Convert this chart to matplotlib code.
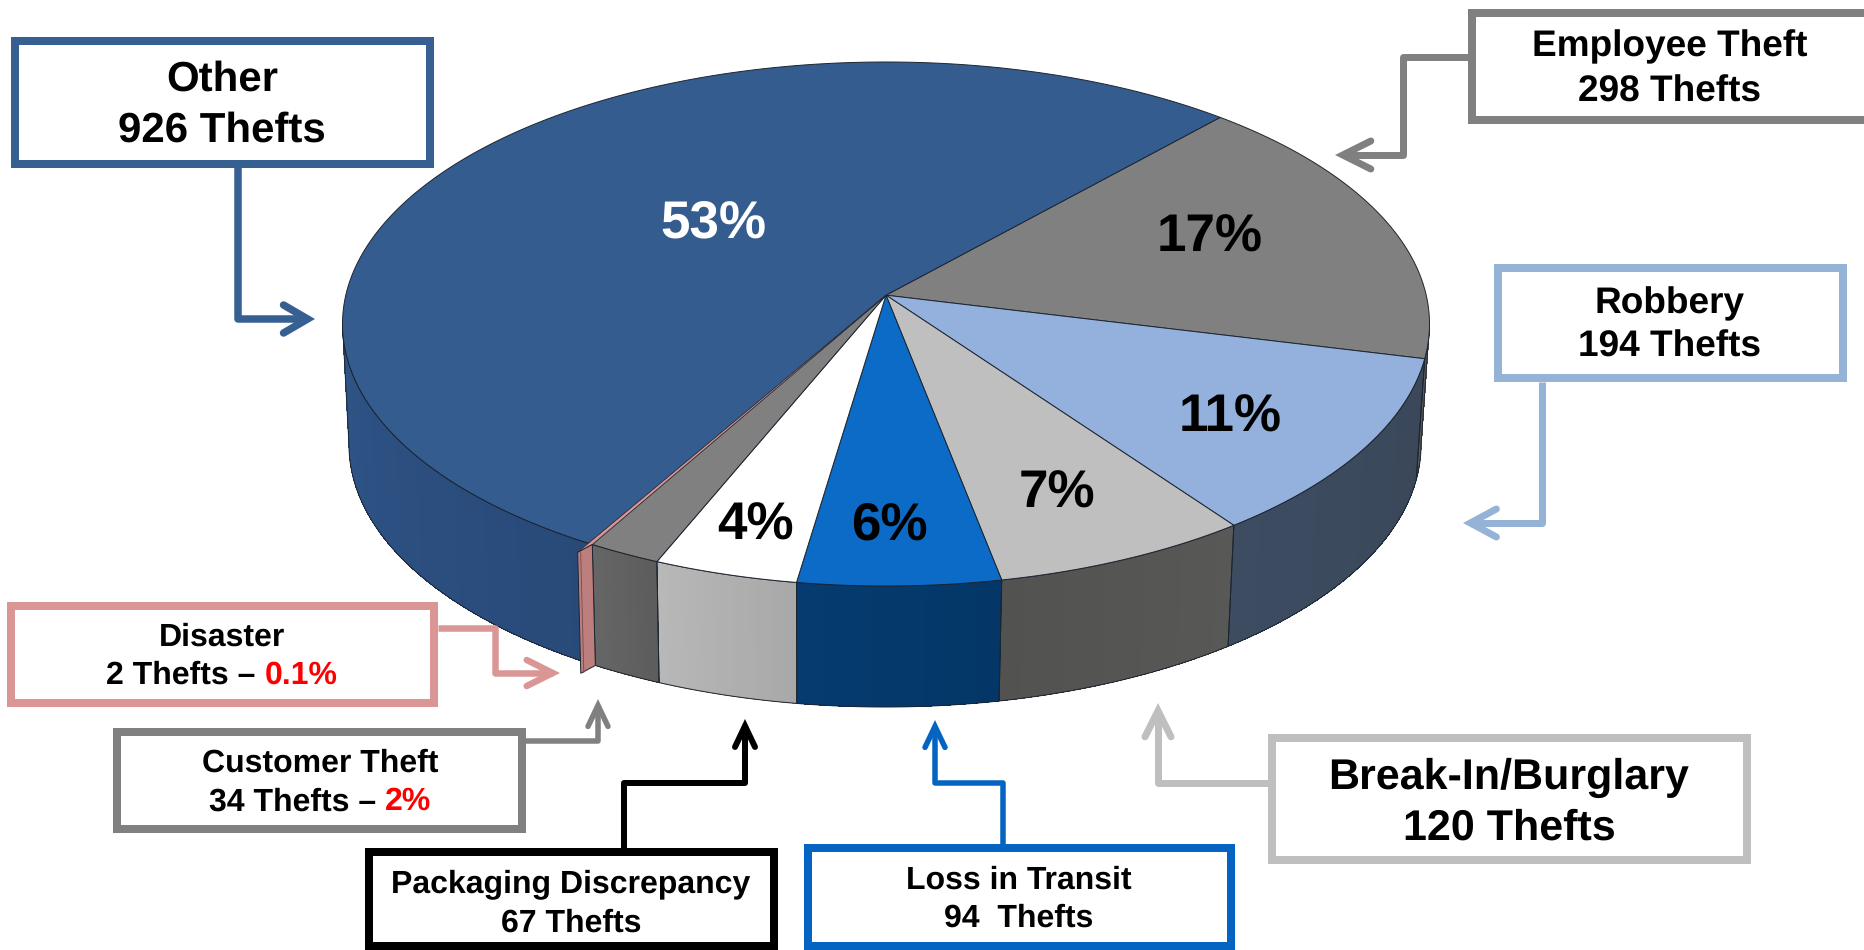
import numpy as np
import matplotlib
matplotlib.use("Agg")
import matplotlib.pyplot as plt
from matplotlib.colors import to_rgb
from matplotlib.patches import Polygon, Rectangle

# ---------- data (clockwise from the Other / Employee Theft boundary) ----------
categories = ["Employee Theft", "Robbery", "Break-In/Burglary", "Loss in Transit",
              "Packaging Discrepancy", "Customer Theft", "Disaster", "Other"]
thefts = [298, 194, 120, 94, 67, 34, 2, 926]
pct_labels = ["17%", "11%", "7%", "6%", "4%", None, None, "53%"]
thefts_labels = ["298 Thefts", "194 Thefts", "120 Thefts", "94  Thefts",
                 "67 Thefts", "34 Thefts – ", "2 Thefts – ", "926 Thefts"]
red_labels = [None, None, None, None, None, "2%", "0.1%", None]

# ---------- styles ----------
top_colors = ["#808080", "#93b1dc", "#bfbfbf", "#0b6bc6", "#ffffff", "#808080", "#d99694", "#355c8f"]
# wall shading: colour at the start and at the end of each slice's rim
wall_a = ["#5a5a5a", "#3a4759", "#585856", "#043767", "#a8a8a8", "#5c5c5c", "#bd7f7d", "#284a79"]
wall_b = ["#5a5a5a", "#3d4c61", "#525250", "#053b70", "#b8b8b8", "#666666", "#bd7f7d", "#2f5487"]
box_colors = ["#808080", "#95b3d7", "#bfbfbf", "#0563c1", "#000000", "#808080", "#d99694", "#376092"]
EDGE = "#1c2530"

plt.rcParams["font.family"] = ["Liberation Sans", "DejaVu Sans"]
plt.rcParams["text.hinting"] = "no_hinting"
plt.rcParams["text.hinting_factor"] = 1
W, H = 1864, 950
fig = plt.figure(figsize=(W / 100, H / 100), dpi=100)
ax = fig.add_axes([0, 0, 1, 1])
ax.set_xlim(0, W)
ax.set_ylim(H, 0)
ax.axis("off")

# ---------- pie projection: a circle seen in perspective ----------
TOP = dict(cx=886.0, cy=324.0, rx=543.5, ry=262.0)
BOT = dict(cx=885.0, cy=445.0, rx=536.0, ry=262.0)
PERSP = 0.11
START = 48.0
SIL_R, SIL_L = -np.degrees(np.arcsin(PERSP)), -180 + np.degrees(np.arcsin(PERSP))


def project(theta_deg, e, r=1.0):
    t = np.radians(np.asarray(theta_deg, dtype=float))
    u, v = r * np.cos(t), r * np.sin(t)
    den = 1 + PERSP * v
    X = u * np.sqrt(1 - PERSP ** 2) / den
    Y = (v + PERSP) / den
    return np.column_stack([e["cx"] + e["rx"] * X, e["cy"] - e["ry"] * Y])


sweep = np.array(thefts, dtype=float) / sum(thefts) * 360
ends = START - np.cumsum(sweep)
starts = ends + sweep
apex = project([0.0], TOP, r=0.0)
EXPLODE = np.array([-11.0, 9.0])  # the thin Disaster slice is pulled slightly out
dis = categories.index("Disaster")

# side walls (only where the rim faces the viewer)
for i in range(len(thefts)):
    hi = min(starts[i], SIL_R)
    lo = max(ends[i], SIL_L)
    if categories[i] == "Other":  # wraps round the back: take its front-left part
        hi, lo = starts[i], SIL_L
    if hi <= lo or i == dis:
        continue
    n_strips = 24
    edges = np.linspace(hi, lo, n_strips + 1)
    ca, cb = np.array(to_rgb(wall_a[i])), np.array(to_rgb(wall_b[i]))
    for k in range(n_strips):
        th = np.linspace(edges[k], edges[k + 1], 6)
        col = ca + (cb - ca) * (k + 0.5) / n_strips
        ax.add_patch(Polygon(np.vstack([project(th, TOP), project(th, BOT)[::-1]]), closed=True,
                             fc=col, ec="none", antialiased=False, zorder=2))
    th = np.linspace(hi, lo, 80)
    ax.add_patch(Polygon(np.vstack([project(th, TOP), project(th, BOT)[::-1]]), closed=True,
                         fc="none", ec=EDGE, lw=0.7, zorder=2.5))

# top faces
for i in range(len(thefts)):
    if i == dis:
        continue
    th = np.linspace(starts[i], ends[i], 300)
    ax.add_patch(Polygon(np.vstack([apex, project(th, TOP)]), closed=True, fc=top_colors[i],
                         ec=EDGE, lw=0.7, zorder=3, joinstyle="round"))

# disaster sliver
pa_t, pb_t = project([starts[dis], ends[dis]], TOP)
pa_b, pb_b = project([starts[dis], ends[dis]], BOT)
ax.add_patch(Polygon([apex[0], pa_t, pb_t + EXPLODE], closed=True, fc=top_colors[dis],
                     ec=EDGE, lw=0.4, zorder=4))
ax.add_patch(Polygon([pa_t, pb_t + EXPLODE, pb_b + EXPLODE, pa_b], closed=True,
                     fc=wall_b[dis], ec=EDGE, lw=0.7, zorder=4))
ax.plot([pb_t[0] + EXPLODE[0] + 3, pb_b[0] + EXPLODE[0] + 3],
        [pb_t[1] + EXPLODE[1] - 1, pb_b[1] + EXPLODE[1] - 1], color="#7d5150", lw=0.7, zorder=5)

# ---------- percent labels on the pie ----------
pct_pos = {"Employee Theft": (1210, 234), "Robbery": (1230, 414), "Break-In/Burglary": (1057, 490),
           "Loss in Transit": (889, 522), "Packaging Discrepancy": (755, 522), "Other": (713, 220)}


def label(x, yc, s, size, color="black", ha="center", zorder=10):
    em = size / 0.72
    return ax.text(x, yc + 0.36 * em - 1.2, s, fontsize=size, fontweight="bold", color=color,
                   ha=ha, va="baseline", zorder=zorder)


for cat, pct in zip(categories, pct_labels):
    if pct:
        x, y = pct_pos[cat]
        label(x, y, pct, 38, color="white" if cat == "Other" else "black")


# ---------- call-out boxes ----------
def box(x0, y0, x1, y1, color, t=8):
    ax.add_patch(Rectangle((x0 + t / 2, y0 + t / 2), x1 - x0 - t, y1 - y0 - t, fc="white", ec=color,
                           lw=t * 0.72, zorder=7, joinstyle="miter", clip_on=True))


def arrow(path, color, lw=7, hl=24, hw=14):
    p = np.array(path, dtype=float)
    d = p[-1] - p[-2]
    d /= np.hypot(*d)
    n = np.array([-d[1], d[0]])
    ext = (lw / 2) / np.sin(np.arctan2(hw, hl))
    tip = p[-1] - ext * d
    p[-1] = tip
    w = lw * 0.72
    ax.plot(p[:, 0], p[:, 1], color=color, lw=w, solid_joinstyle="round", solid_capstyle="butt", zorder=6)
    head = np.array([tip - hl * d + hw * n, tip, tip - hl * d - hw * n])
    ax.plot(head[:, 0], head[:, 1], color=color, lw=w, solid_joinstyle="miter", solid_capstyle="round", zorder=6)


layout = {
    "Employee Theft": dict(box=(1468, 9, 1900, 124), cx=1670, y=(44, 89), size=26.8,
                           path=[(1470, 57), (1403, 57), (1403, 155), (1335, 155)], lw=7, hl=28, hw=14),
    "Robbery": dict(box=(1494, 264, 1847, 382), cx=1670, y=(301, 345), size=26.6,
                    path=[(1542, 382), (1542, 523), (1463, 523)], lw=7, hl=26, hw=14),
    "Break-In/Burglary": dict(box=(1268, 734, 1751, 864), cx=1509, y=(775, 825), size=30.8,
                              path=[(1268, 783), (1158, 783), (1158, 703)], lw=7, hl=26, hw=13),
    "Loss in Transit": dict(box=(804, 844, 1235, 950), cx=1019, y=(878, 916), size=22.8,
                            path=[(1003, 844), (1003, 783), (935, 783), (935, 720)], lw=5.5, hl=21, hw=10),
    "Packaging Discrepancy": dict(box=(365, 848, 778, 950), cx=571, y=(882, 921), size=22.8,
                                  path=[(623.5, 848), (623.5, 783), (745, 783), (745, 719)], lw=6, hl=21, hw=10),
    "Customer Theft": dict(box=(113, 728, 526, 833), cx=320, y=(761, 800), size=22.9,
                           path=[(526, 741), (598, 741), (598, 699)], lw=5.5, hl=21, hw=10),
    "Disaster": dict(box=(7, 602, 438, 707), cx=222, y=(635, 673), size=23,
                     path=[(438, 628), (495, 628), (495, 673), (560, 673)], lw=6.5, hl=26, hw=13),
    "Other": dict(box=(11, 37, 434, 168), cx=222, y=(77, 128), size=30.5,
                  path=[(238, 168), (238, 319), (315, 319)], lw=7.5, hl=24, hw=14),
}

renderer = fig.canvas.get_renderer()
for i, cat in enumerate(categories):
    c = layout[cat]
    arrow(c["path"], box_colors[i], lw=c["lw"], hl=c["hl"], hw=c["hw"])
    box(*c["box"], box_colors[i])
    label(c["cx"], c["y"][0], cat, c["size"])
    if red_labels[i] is None:
        label(c["cx"], c["y"][1], thefts_labels[i], c["size"])
    else:
        # a black and a red run, centred together
        black_run = thefts_labels[i].replace(" – ", " –\u00a0")
        probe_a = label(0, 0, black_run, c["size"])
        probe_b = label(0, 0, red_labels[i], c["size"])
        wa = probe_a.get_window_extent(renderer).width
        wb = probe_b.get_window_extent(renderer).width
        probe_a.remove()
        probe_b.remove()
        x0 = c["cx"] - (wa + wb) / 2
        label(x0, c["y"][1], black_run, c["size"], ha="left")
        label(x0 + wa, c["y"][1], red_labels[i], c["size"], color="#ff0000", ha="left")

fig.savefig("out.png", dpi=100, facecolor="white")
